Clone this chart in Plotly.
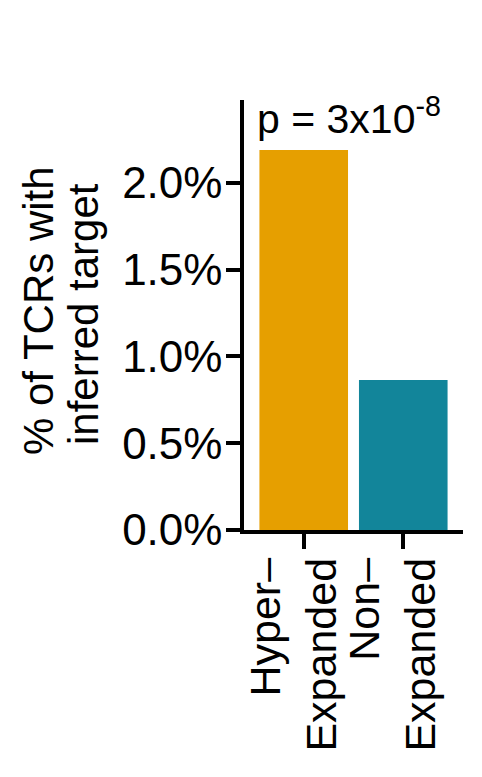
import plotly.graph_objects as go

# data
groups = ["Hyper–<br>Expanded", "Non–<br>Expanded"]
pct_with_target = [2.19, 0.865]
bar_colors = ["#E69F00", "#12859A"]
y_ticks = [0.0, 0.5, 1.0, 1.5, 2.0]
y_tick_labels = ["0.0%", "0.5%", "1.0%", "1.5%", "2.0%"]
y_title_lines = ["% of TCRs with", "inferred target"]
p_label = "p = 3x10<sup>-8</sup>"

FONT = "Liberation Sans, Arial, sans-serif"

# page body has an 8px margin, so offset the figure to compensate
L, T = 236, 92
W, H = 482, 777
PLOT_W, PLOT_H = 219, 430

fig = go.Figure()
fig.add_bar(x=groups, y=pct_with_target, marker_color=bar_colors,
            marker_line_width=0, width=0.89)

fig.add_annotation(x=0, y=1.0, xref="paper", yref="paper",
                   xanchor="left", yanchor="top", xshift=11, yshift=12,
                   text=p_label, showarrow=False,
                   font=dict(size=41, color="black", family=FONT))

# two-line y title, tighter line spacing than plotly's default
for line, xs, ys in zip(y_title_lines, [-206, -161], [4, 1]):
    fig.add_annotation(x=0, y=0.5, xref="paper", yref="paper",
                       xanchor="center", yanchor="middle",
                       xshift=xs, yshift=ys, textangle=-90,
                       text=line, showarrow=False,
                       font=dict(size=42, color="black", family=FONT))

fig.update_xaxes(range=[-0.6, 1.6], showline=True, linecolor="black",
                 linewidth=3.5, ticks="outside", ticklen=15, tickwidth=3.5,
                 tickcolor="black", tickangle=-90, showgrid=False,
                 ticklabelshift=-10, ticklabelstandoff=-8,
                 tickfont=dict(size=43, color="black", family=FONT))
fig.update_yaxes(range=[0, 2.478], tickvals=y_ticks, ticktext=y_tick_labels,
                 showline=True, linecolor="black", linewidth=3.5,
                 ticks="outside", ticklen=14, tickwidth=3.5, tickcolor="black",
                 showgrid=False, zeroline=False, ticklabelstandoff=-5,
                 tickfont=dict(size=44, color="black", family=FONT))

fig.update_layout(width=W, height=H, showlegend=False,
                  plot_bgcolor="white", paper_bgcolor="white",
                  margin=dict(l=L, r=W - L - PLOT_W, t=T, b=H - T - PLOT_H,
                              autoexpand=False),
                  font=dict(family=FONT, color="black"))

fig.write_html("out.html")
